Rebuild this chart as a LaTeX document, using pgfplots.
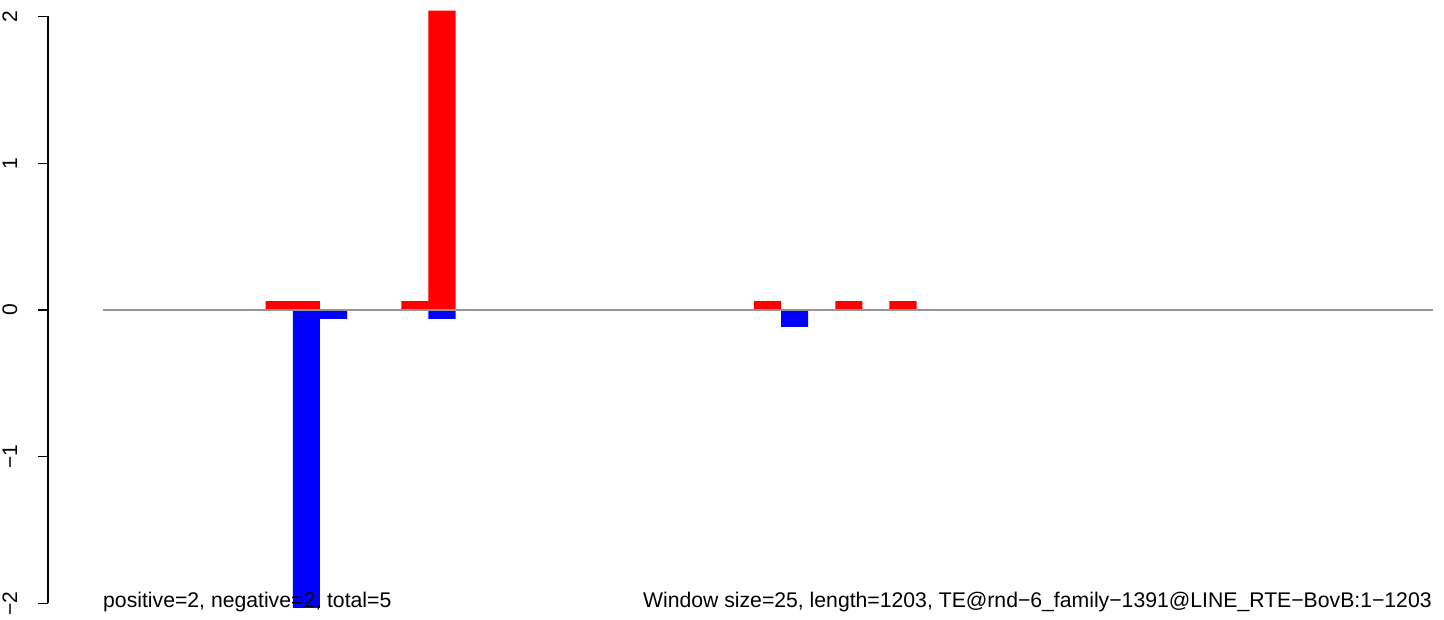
\documentclass[border=0pt]{standalone}
\usepackage{pgfplots}
\pgfplotsset{compat=1.18}
\usepackage{fontspec}
\setmainfont{Liberation Sans}
\definecolor{zline}{RGB}{150,150,150}
\begin{document}
\begin{tikzpicture}
\begin{axis}[
  scale only axis,
  width=1385pt, height=587pt,
  xmin=-2.028, xmax=49.04,
  ymin=-2, ymax=2,
  clip=false,
  axis x line=none,
  axis y line*=left,
  y axis line style={-, line width=1.2pt},
  ytick={-2,-1,0,1,2},
  yticklabels={{−2},{−1},{0},{1},{2}},
  ytick align=outside,
  major tick length=10pt,
  ytick style={line width=1.2pt, black},
  yticklabel style={rotate=90, anchor=base, inner sep=0pt, yshift=21pt, font=\fontsize{21}{24}\selectfont},
  every axis plot/.append style={draw=none},
]
% positive (red) bars, window index centres
\addplot[ybar, bar width=1, bar shift=0, fill=red, draw=none] coordinates {
 (6.5,0.06) (7.5,0.06) (11.5,0.06) (12.5,2.04) (24.5,0.06) (27.5,0.06) (29.5,0.06)
};
% negative (blue) bars
\addplot[ybar, bar width=1, bar shift=0, fill=blue, draw=none] coordinates {
 (7.5,-2.03) (8.5,-0.06) (12.5,-0.06) (25.5,-0.115)
};
% zero line
\addplot[zline, line width=1.2pt, draw=zline] coordinates {(0,0) (49.04,0)};
\node[anchor=base west, inner sep=0pt, font=\fontsize{21.2}{24}\selectfont] at (axis cs:0,-2.0286) {positive=2, negative=2, total=5};
\node[anchor=base east, inner sep=0pt, font=\fontsize{21.2}{24}\selectfont] at (axis cs:49.0,-2.0286) {Window size=25, length=1203, TE@rnd−6\_family−1391@LINE\_RTE−BovB:1−1203};
\path (axis cs:-3.798,-2.1124) rectangle (axis cs:49.447,2.1124);
\end{axis}
\end{tikzpicture}
\end{document}
